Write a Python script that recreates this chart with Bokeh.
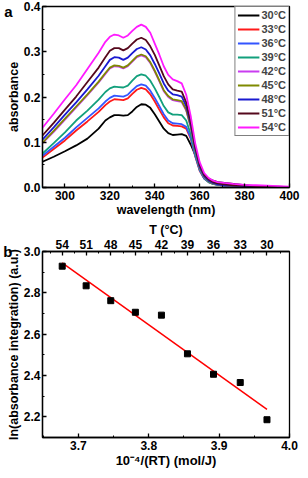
from bokeh.plotting import figure
from bokeh.models import (LinearAxis, FixedTicker, Legend, LegendItem,
                          Range1d, PrintfTickFormatter)
from bokeh.layouts import column
from bokeh.embed import file_html
from bokeh.resources import INLINE

FONT = "Liberation Sans"

# ---------------- panel a data ----------------
wavelength = [290, 295, 300, 305, 310, 315, 318, 320, 322, 324, 326, 328, 330, 332,
              334, 336, 338, 340, 342, 344, 346, 348, 350, 352, 354, 356, 358, 360,
              362, 364, 366, 368, 371, 375, 380, 385, 390, 395, 400]

abs_30 = [.057, .068, .080, .093, .108, .130, .148, .155, .160, .160, .159, .160, .168, .178,
          .184, .183, .176, .162, .146, .130, .120, .116, .117, .118, .114, .095, .072, .045,
          .028, .020, .015, .012, .010, .008, .005, .003, .002, .001, .001]
abs_33 = [.066, .085, .104, .126, .146, .167, .182, .190, .195, .194, .193, .197, .207, .216,
          .220, .217, .206, .190, .172, .155, .142, .137, .136, .135, .130, .108, .069, .037,
          .020, .012, .008, .006, .004, .003, .002, .001, .001, .001, .001]
abs_36 = [.070, .090, .110, .133, .154, .175, .190, .198, .203, .202, .201, .205, .215, .224,
          .228, .225, .214, .198, .180, .162, .148, .142, .141, .140, .134, .110, .070, .038,
          .020, .012, .008, .006, .004, .003, .002, .001, .001, .001, .001]
abs_39 = [.075, .098, .122, .148, .170, .194, .211, .219, .223, .222, .221, .225, .236, .246,
          .250, .247, .236, .219, .200, .180, .166, .161, .161, .160, .148, .118, .074, .040,
          .021, .012, .008, .006, .004, .003, .002, .002, .001, .001, .001]
abs_42 = [.098, .123, .150, .177, .204, .232, .251, .263, .268, .267, .263, .268, .278, .288,
          .292, .288, .275, .256, .235, .213, .200, .193, .191, .189, .170, .133, .082, .043,
          .023, .014, .009, .007, .005, .004, .003, .002, .002, .001, .001]
abs_45 = [.099, .125, .152, .179, .206, .234, .253, .265, .270, .269, .265, .270, .280, .290,
          .294, .290, .277, .258, .237, .215, .202, .195, .193, .191, .172, .135, .083, .044,
          .024, .014, .009, .007, .005, .004, .003, .002, .002, .001, .001]
abs_48 = [.106, .133, .161, .188, .217, .247, .268, .282, .288, .287, .282, .287, .297, .306,
          .310, .305, .292, .273, .252, .230, .214, .206, .204, .201, .180, .140, .086, .046,
          .025, .015, .010, .007, .005, .004, .003, .002, .002, .001, .001]
abs_51 = [.115, .143, .172, .201, .233, .265, .288, .302, .308, .308, .303, .308, .318, .327,
          .331, .326, .312, .293, .270, .246, .228, .217, .214, .212, .188, .145, .090, .050,
          .028, .018, .012, .009, .007, .005, .004, .003, .002, .002, .001]
abs_54 = [.132, .163, .195, .226, .262, .298, .322, .333, .338, .336, .331, .336, .346, .355,
          .360, .355, .342, .318, .294, .268, .249, .239, .235, .230, .205, .158, .098, .056,
          .032, .021, .015, .012, .010, .008, .006, .005, .004, .003, .002]

series = [abs_30, abs_33, abs_36, abs_39, abs_42, abs_45, abs_48, abs_51, abs_54]
series_labels = ["30°C", "33°C", "36°C", "39°C", "42°C", "45°C", "48°C", "51°C", "54°C"]
series_colors = ["#000000", "#ff1a1a", "#3355ff", "#12a07c", "#c93cf0",
                 "#7f8a00", "#1a1ad0", "#55081c", "#ff1aff"]

# ---------------- panel b data ----------------
inv_rt = [3.677, 3.711, 3.746, 3.781, 3.818, 3.855, 3.892, 3.930, 3.968]
ln_abs = [2.929, 2.834, 2.762, 2.706, 2.692, 2.505, 2.406, 2.366, 2.186]
fit_x = [3.677, 3.968]
fit_y = [2.945, 2.236]
temp_ticks = ["54", "51", "48", "45", "42", "39", "36", "33", "30"]


def style_axis(ax, tick_size, label_size):
    ax.axis_line_color = "black"
    ax.axis_line_width = 1.3
    ax.major_tick_in = 4
    ax.major_tick_out = 0
    ax.minor_tick_in = 2
    ax.minor_tick_out = 0
    ax.major_tick_line_color = "black"
    ax.minor_tick_line_color = "black"
    ax.major_tick_line_width = 1.3
    ax.minor_tick_line_width = 1
    ax.major_label_text_font = FONT
    ax.major_label_text_font_style = "bold"
    ax.major_label_text_font_size = tick_size
    ax.major_label_text_color = "black"
    ax.major_label_standoff = 3
    ax.axis_label_text_font = FONT
    ax.axis_label_text_font_style = "bold"
    ax.axis_label_text_font_size = label_size
    ax.axis_label_text_color = "black"
    ax.axis_label_standoff = 0


def panel_letter(letter, at_value):
    # an outer left axis that only carries the panel letter, pulled inwards
    ax = LinearAxis(ticker=FixedTicker(ticks=[at_value], minor_ticks=[]),
                    major_label_overrides={at_value: letter})
    ax.axis_line_color = None
    ax.major_tick_line_color = None
    ax.minor_tick_line_color = None
    ax.major_tick_in = 0
    ax.major_tick_out = 0
    ax.major_label_text_font = FONT
    ax.major_label_text_font_style = "bold"
    ax.major_label_text_font_size = "15px"
    ax.major_label_text_color = "black"
    ax.major_label_standoff = -9
    return ax


# ---------------- panel a ----------------
p1 = figure(width=300, height=219, x_range=Range1d(290, 400), y_range=Range1d(0, 0.4),
            output_backend="svg", toolbar_location=None,
            min_border_left=30, min_border_right=11, min_border_top=6, min_border_bottom=28)
p1.grid.visible = False
p1.outline_line_color = "black"
p1.outline_line_width = 1.3
p1.xaxis.ticker = FixedTicker(ticks=[300, 320, 340, 360, 380, 400],
                              minor_ticks=[290, 310, 330, 350, 370, 390])
p1.yaxis.ticker = FixedTicker(ticks=[0.0, 0.1, 0.2, 0.3, 0.4],
                              minor_ticks=[0.05, 0.15, 0.25, 0.35])
p1.yaxis.formatter = PrintfTickFormatter(format="%.1f")
p1.xaxis.axis_label = "wavelength (nm)"
p1.yaxis.axis_label = "absorbance"
style_axis(p1.xaxis[0], "12px", "12.5px")
style_axis(p1.yaxis[0], "12px", "12.5px")
p1.yaxis[0].major_label_standoff = 2
p1.add_layout(panel_letter("a", 0.4), "left")

items = []
for vals, lab, col in zip(series, series_labels, series_colors):
    r = p1.line(wavelength, vals, line_color=col, line_width=1.8)
    items.append(LegendItem(label=lab, renderers=[r]))
legend = Legend(items=items, location="top_right", margin=0, padding=2, spacing=2,
                glyph_width=22, glyph_height=12, label_height=12, label_standoff=2,
                label_text_font=FONT, label_text_font_style="bold",
                label_text_font_size="11px", border_line_color="black",
                border_line_width=1, background_fill_alpha=1)
p1.add_layout(legend)

# ---------------- panel b ----------------
p2 = figure(width=300, height=251, x_range=Range1d(3.649, 4.0), y_range=Range1d(2.1, 3.0),
            output_backend="svg", toolbar_location=None,
            min_border_left=30, min_border_right=10, min_border_top=27, min_border_bottom=30)
p2.grid.visible = False
p2.outline_line_color = "black"
p2.outline_line_width = 1.3
p2.xaxis.ticker = FixedTicker(ticks=[3.7, 3.8, 3.9, 4.0],
                              minor_ticks=[3.65, 3.75, 3.85, 3.95])
p2.xaxis.formatter = PrintfTickFormatter(format="%.1f")
p2.yaxis.ticker = FixedTicker(ticks=[2.2, 2.4, 2.6, 2.8, 3.0],
                              minor_ticks=[2.1, 2.3, 2.5, 2.7, 2.9])
p2.yaxis.formatter = PrintfTickFormatter(format="%.1f")
p2.xaxis.axis_label = "10⁻⁴/(RT) (mol/J)"
p2.yaxis.axis_label = "ln(absorbance integration) (a.u.)"
style_axis(p2.xaxis[0], "12px", "13px")
style_axis(p2.yaxis[0], "12px", "12.5px")
p2.yaxis[0].major_label_standoff = 2
p2.add_layout(panel_letter("b", 3.0), "left")

top_axis = LinearAxis(ticker=FixedTicker(ticks=inv_rt,
                                         minor_ticks=[3.66, 3.694, 3.729, 3.764, 3.800,
                                                      3.837, 3.874, 3.911, 3.949, 3.987]),
                      major_label_overrides={v: t for v, t in zip(inv_rt, temp_ticks)},
                      axis_label="T (°C)")
style_axis(top_axis, "12px", "12.5px")
p2.add_layout(top_axis, "above")

p2.line(fit_x, fit_y, line_color="#ff0000", line_width=1.5)
p2.scatter(inv_rt, ln_abs, marker="square", size=6, fill_color="black", line_color="black")

layout = column(p1, p2, spacing=0)
open("out.html", "w").write(file_html(layout, INLINE))
